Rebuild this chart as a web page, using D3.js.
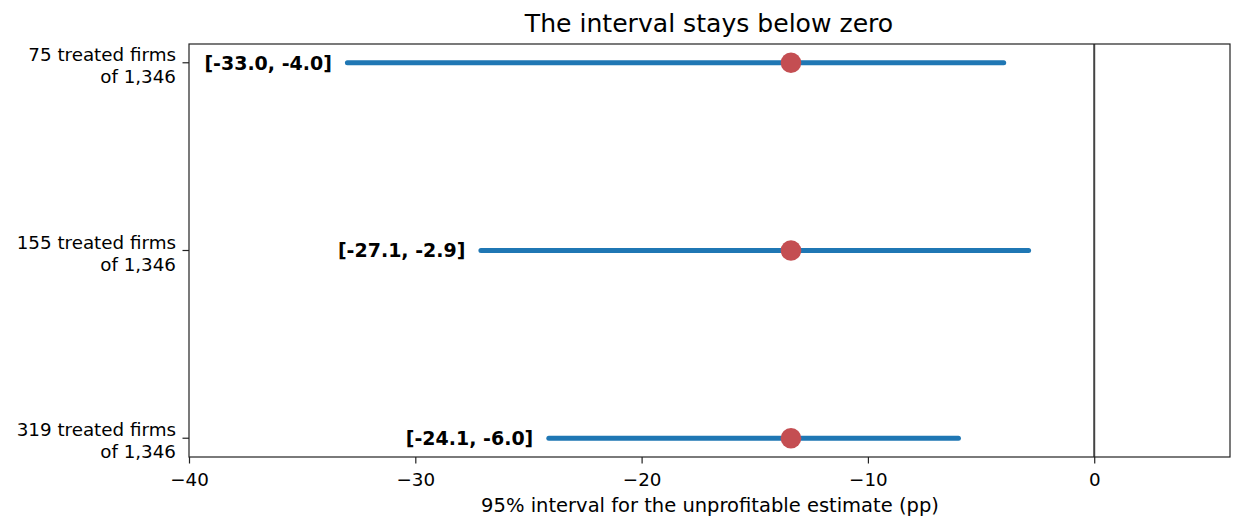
<!DOCTYPE html>
<html><head><meta charset="utf-8">
<script src="https://cdn.jsdelivr.net/npm/d3@7"></script>
<style>body{margin:0;background:#fff;font-family:"DejaVu Sans",sans-serif;}</style>
</head><body><svg id="c" width="1244" height="530" font-family="DejaVu Sans"></svg>
<script>
const categories = ["75 treated firms\nof 1,346", "155 treated firms\nof 1,346", "319 treated firms\nof 1,346"];
const lows = [-33.0, -27.1, -24.1];
const highs = [-4.0, -2.9, -6.0];
const estimates = [-13.4, -13.4, -13.4];
const xTicks = [-40, -30, -20, -10, 0];

const svg = d3.select("#c");
const L = 189, R = 1230, T = 44, B = 457;
const x = d3.scaleLinear().domain([-40, 6]).range([L, R]);
const y = d3.scaleLinear().domain([-0.1, 2.1]).range([T, B]);

// zero line
svg.append("line").attr("x1", x(0)).attr("x2", x(0)).attr("y1", T).attr("y2", B)
  .attr("stroke", "#444").attr("stroke-width", 2);

const g = svg.append("g");
categories.forEach((c, i) => {
  g.append("line").attr("x1", x(lows[i])).attr("x2", x(highs[i]))
    .attr("y1", y(i)).attr("y2", y(i))
    .attr("stroke", "#1f77b4").attr("stroke-width", 5).attr("stroke-linecap", "round");
  g.append("circle").attr("cx", x(estimates[i])).attr("cy", y(i)).attr("r", 10.3)
    .attr("fill", "#c44e52");
  g.append("text").attr("x", x(lows[i]) - 15.5).attr("y", y(i)).attr("dy", "0.36em")
    .attr("text-anchor", "end").attr("font-size", 19).attr("font-weight", "bold")
    .attr("fill", "#000")
    .text(`[${lows[i].toFixed(1)}, ${highs[i].toFixed(1)}]`);
});

// frame
svg.append("rect").attr("x", L).attr("y", T).attr("width", R - L).attr("height", B - T)
  .attr("fill", "none").attr("stroke", "#222").attr("stroke-width", 1.2);

// x axis
const xa = svg.append("g").attr("transform", `translate(0,${B})`)
  .call(d3.axisBottom(x).tickValues(xTicks).tickSize(6.5).tickPadding(4)
    .tickFormat(d => d < 0 ? "\u2212" + Math.abs(d) : d));
xa.select(".domain").remove();
xa.selectAll("line").attr("stroke", "#222").attr("stroke-width", 1.2);
xa.selectAll("text").attr("font-size", 18.3).attr("font-family", "DejaVu Sans").attr("fill", "#000")
  .attr("dy", null).attr("y", 29);

// y axis
const ya = svg.append("g");
categories.forEach((c, i) => {
  ya.append("line").attr("x1", L - 6.5).attr("x2", L).attr("y1", y(i)).attr("y2", y(i))
    .attr("stroke", "#222").attr("stroke-width", 1.2);
  const t = ya.append("text").attr("text-anchor", "end").attr("font-size", 18.3).attr("fill", "#000");
  c.split("\n").forEach((line, k) => {
    t.append("tspan").attr("x", L - 13).attr("y", y(i) - 2 + k * 22).text(line);
  });
});

svg.append("text").attr("x", (L + R) / 2 + 0.5).attr("y", 512).attr("text-anchor", "middle")
  .attr("font-size", 19.5).text("95% interval for the unprofitable estimate (pp)");
svg.append("text").attr("x", (L + R) / 2 - 0.5).attr("y", 32).attr("text-anchor", "middle")
  .attr("font-size", 25.1).text("The interval stays below zero");
</script></body></html>
